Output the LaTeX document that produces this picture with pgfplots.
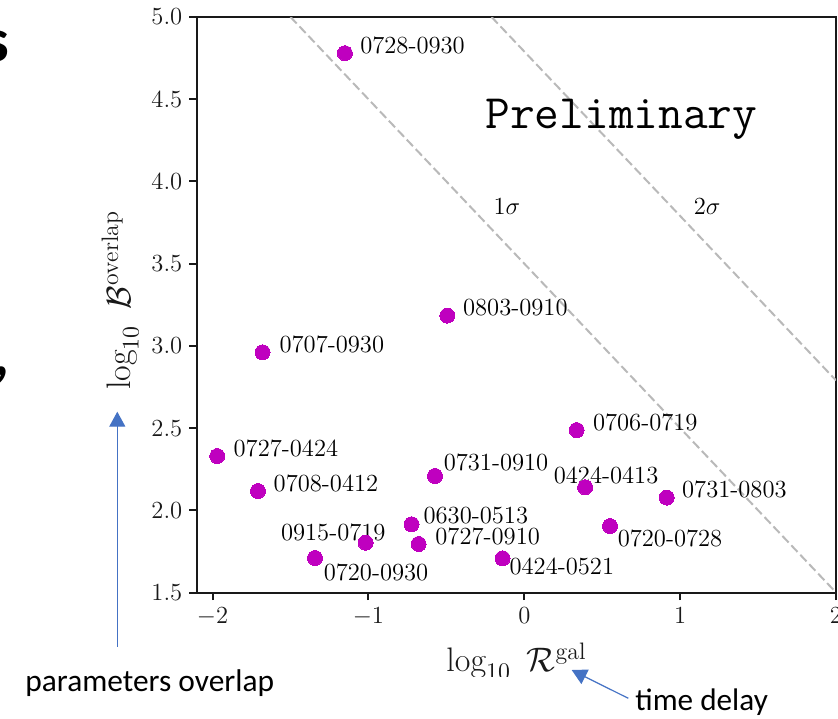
\RequirePackage{fix-cm}
\documentclass[border=0pt]{standalone}
\usepackage{fontspec}
\newfontfamily\calibri{Carlito}
\usepackage{pgfplots}
\usepackage{pgfplotstable}
\pgfplotsset{compat=1.18}
\usetikzlibrary{arrows.meta}

\definecolor{dotmag}{RGB}{191,0,191}
\definecolor{refgray}{RGB}{185,185,185}
\definecolor{axisink}{RGB}{25,25,25}
\definecolor{arrowblue}{RGB}{68,114,196}

% event pairs: log10 R^gal, log10 B^overlap, name, label offset (pt)
\pgfplotstableread{
x       y      label      dx     dy
-1.151  4.780  0728-0930   7.5    0
-0.494  3.184  0803-0910   7.7    0
-1.679  2.961  0707-0930   8.3    0
 0.336  2.488  0706-0719   8.0    0
-1.970  2.330  0727-0424   8.0    0
-1.709  2.117  0708-0412   7.7    0
-0.573  2.209  0731-0910   4.2    2.7
 0.390  2.140  0424-0413  -15.8   1.7
 0.914  2.077  0731-0803   7.5    0
-0.723  1.915  0630-0513   5.8    0.5
 0.550  1.904  0720-0728   3.7  -10.3
-1.018  1.803  0915-0719  -42.5   1.3
-0.678  1.795  0727-0910   8.2    0
-1.343  1.710  0720-0930   4.2  -11.3
-0.139  1.708  0424-0521   3.3   -8.3
}\pairs

\newcommand\lblfont{\fontsize{12.3}{14}\selectfont}

\begin{document}
\begin{tikzpicture}
\useasboundingbox (0,0) rectangle (419pt,359pt);
\begin{axis}[
  at={(98.5pt,62.75pt)}, anchor=south west,
  width=319.5pt, height=287.75pt, scale only axis,
  xmin=-2.1, xmax=2, ymin=1.5, ymax=5,
  xtick={-2,-1,0,1,2}, ytick={1.5,2,2.5,3,3.5,4,4.5,5},
  tick align=outside, tick pos=left,
  major tick length=3.85pt,
  axis line style={axisink, line width=1pt},
  every tick/.style={axisink, line width=1pt},
  ticklabel style={font=\lblfont, text=axisink},
  yticklabel style={/pgf/number format/.cd, fixed, fixed zerofill, precision=1},
  xlabel={$\log_{10}\ \mathcal{R}^{\mathrm{gal}}$},
  ylabel={$\log_{10}\ \mathcal{B}^{\mathrm{overlap}}$},
  label style={font=\fontsize{17}{20}\selectfont, text=axisink},
  xlabel style={at={(axis description cs:0.5,-0.1376)}, anchor=base},
  ylabel style={at={(axis description cs:-0.1041,0.508)}, anchor=base},
]
% significance contours
\addplot[refgray, line width=1pt, dash pattern=on 4.5pt off 2pt]
  coordinates {(-1.5,5) (2,1.5)};
\addplot[refgray, line width=1pt, dash pattern=on 4.5pt off 2pt]
  coordinates {(-0.21,5) (2,2.79)};
\node[anchor=base west, inner sep=0pt, font=\lblfont] at (axis cs:-0.199,3.796) {$1\sigma$};
\node[anchor=base west, inner sep=0pt, font=\lblfont] at (axis cs:1.085,3.796) {$2\sigma$};
\node[anchor=base west, inner sep=0pt, font=\ttfamily\fontsize{24}{28}\selectfont]
  at (axis cs:-0.252,4.324) {Preliminary};

% pair names
\addplot[only marks, mark=none,
  point meta=explicit symbolic,
  nodes near coords={\pgfplotspointmeta},
  visualization depends on={\thisrow{dx}\as\dx},
  visualization depends on={\thisrow{dy}\as\dy},
  every node near coord/.append style={anchor=base west, inner sep=0pt,
    xshift=\dx pt, yshift=\dy pt, font=\lblfont, text=black}]
  table[x=x, y=y, meta=label] {\pairs};

% pairs
\addplot[dotmag, only marks, mark=*, mark size=3.75pt,
  mark options={draw=dotmag, fill=dotmag, line width=0pt}]
  table[x=x, y=y] {\pairs};
\end{axis}

\begin{scope}[x=0.5pt, y=-0.5pt, shift={(0pt,359pt)}]
  \fill[white] (440,677) rectangle (565,695);
  \node[anchor=base east, inner sep=0pt, font=\calibri\bfseries\fontsize{31}{36}\selectfont]
    at (9.5,62) {s};
  \node[anchor=base east, inner sep=0pt, font=\calibri\bfseries\fontsize{31}{36}\selectfont]
    at (10,375) {,};
  \draw[arrowblue, line width=0.7pt, -{Triangle[length=7.5pt, width=8pt]}]
    (117.3,646.7) -- (117.3,411.7);
  \node[anchor=base west, inner sep=0pt, font=\calibri\fontsize{15.7}{18}\selectfont]
    at (25,691.7) {parameters overlap};
  \draw[arrowblue, line width=0.6pt, -{Triangle[length=7.5pt, width=8pt]}]
    (628.3,698.3) -- (571.7,670);
  \node[anchor=base west, inner sep=0pt, font=\calibri\fontsize{15.6}{18}\selectfont]
    at (635,710.7) {time delay};
\end{scope}
\end{tikzpicture}
\end{document}
